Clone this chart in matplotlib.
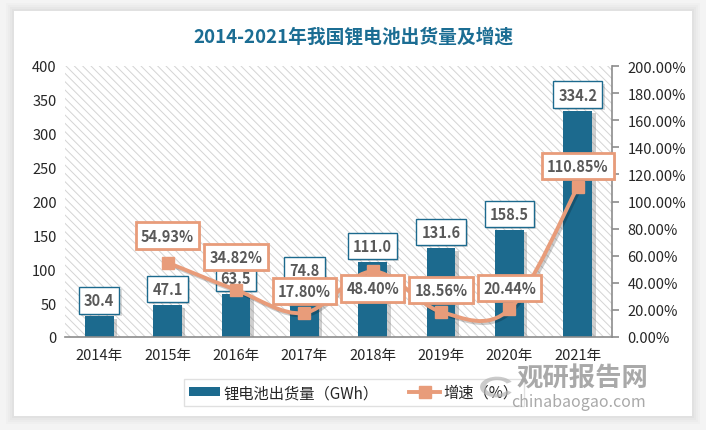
import numpy as np
import matplotlib
matplotlib.use('Agg')
import matplotlib.pyplot as plt
from matplotlib.path import Path
from matplotlib.patches import PathPatch, Rectangle, Wedge
from matplotlib.lines import Line2D
import matplotlib.patheffects as pe
from matplotlib.ticker import FuncFormatter

plt.rcParams['font.family'] = ['Noto Sans CJK SC', 'DejaVu Sans']
plt.rcParams['hatch.linewidth'] = 0.7
plt.rcParams['hatch.color'] = '#d4d4d4'

years = ['2014年', '2015年', '2016年', '2017年', '2018年', '2019年', '2020年', '2021年']
shipments = [30.4, 47.1, 63.5, 74.8, 111.0, 131.6, 158.5, 334.2]
growth = [np.nan, 54.93, 34.82, 17.80, 48.40, 18.56, 20.44, 110.85]
# label offsets (pixels) of the growth boxes relative to their markers
growth_offsets = [0, 27, 33, 22, -17, 22, 21, 21]

bar_color = '#1c6a8e'
line_color = '#e89c7a'
txt_color = '#595959'

fig = plt.figure(figsize=(7.06, 4.31), dpi=100)
fig.patch.set_facecolor('#f4f4f4')

# white card with soft shadow
for k, a in enumerate([0.05, 0.06, 0.08, 0.10]):
    d = (4 - k) * 0.003
    fig.patches.append(Rectangle((14/706 - d, 1 - 417/431 - d*1.6), 678/706 + 2*d, 405/431 + 2*d*1.6,
                                 transform=fig.transFigure, facecolor='#b0b0b0', alpha=a,
                                 edgecolor='none', zorder=-3))
fig.patches.append(Rectangle((14/706, 1 - 417/431), 678/706, 405/431, transform=fig.transFigure,
                             facecolor='white', edgecolor='none', zorder=-2))

ax = fig.add_axes([65/706, 1 - 338/431, 547/706, 271/431])
ax.set_facecolor('none')
ax.add_patch(Rectangle((0, 0), 1, 1, transform=ax.transAxes, facecolor='white',
                       hatch='\\\\\\\\', edgecolor='#d4d4d4', lw=0, zorder=0))
x = np.arange(len(years))
bars = ax.bar(x, shipments, width=0.42, color=bar_color, zorder=2,
              path_effects=[pe.SimplePatchShadow(offset=(2.5, -2), shadow_rgbFace='#777777', alpha=0.35),
                            pe.Normal()])
ax.set_xlim(-0.5, 7.5)
ax.set_ylim(0, 400)
ax.set_yticks(np.arange(0, 401, 50))
ax.set_xticks(x)
ax.set_xticklabels(years)
for s in ['top', 'right', 'left']:
    ax.spines[s].set_visible(False)
ax.spines['bottom'].set_color('#8c8c8c')
ax.spines['bottom'].set_linewidth(1.2)
ax.tick_params(axis='both', length=0, labelsize=10.5, colors='#262626', pad=6)
ax.tick_params(axis='x', pad=8)

for xi, v in zip(x, shipments):
    t = ax.annotate(f'{v:.1f}', (xi, v), xytext=(0, 16), textcoords='offset pixels',
                    ha='center', va='center', fontsize=10.5, fontweight='bold', color=txt_color,
                    bbox=dict(boxstyle='square,pad=0.35', fc='white', ec=bar_color, lw=1),
                    zorder=5)
    t.get_bbox_patch().set_path_effects([pe.SimplePatchShadow(offset=(1.5, -1.5), alpha=0.2), pe.Normal()])

ax2 = ax.twinx()
ax2.set_ylim(0, 200)
ax2.set_yticks(np.arange(0, 201, 20))
ax2.yaxis.set_major_formatter(FuncFormatter(lambda v, p: f'{v:.2f}%'))
for s in ['top', 'left', 'bottom']:
    ax2.spines[s].set_visible(False)
ax2.spines['right'].set_color('#8c8c8c')
ax2.spines['right'].set_linewidth(1.2)
ax2.tick_params(axis='y', length=5, width=1.2, color='#8c8c8c', labelsize=10.5,
                labelcolor='#262626', pad=6)

# smoothed line (Bezier through the growth points)
gx = x[1:].astype(float)
gy = np.array(growth[1:])
pts = np.column_stack([gx, gy])
verts = [pts[0]]
codes = [Path.MOVETO]
n = len(pts)
for i in range(n - 1):
    p0 = pts[i - 1] if i > 0 else pts[i]
    p3 = pts[i + 2] if i + 2 < n else pts[i + 1]
    c1 = pts[i] + (pts[i + 1] - p0) / 6
    c2 = pts[i + 1] - (p3 - pts[i]) / 6
    verts += [c1, c2, pts[i + 1]]
    codes += [Path.CURVE4] * 3
curve = PathPatch(Path(verts, codes), fill=False, edgecolor=line_color, lw=2.8, zorder=3,
                  capstyle='round',
                  path_effects=[pe.SimpleLineShadow(offset=(1.5, -1.5), alpha=0.2), pe.Normal()])
ax2.add_patch(curve)
ax2.plot(gx, gy, linestyle='none', marker='s', markersize=9, color=line_color, zorder=4)

for xi, v, off in zip(x, growth, growth_offsets):
    if np.isnan(v):
        continue
    t = ax2.annotate(f'{v:.2f}%', (xi, v), xytext=(0, off), textcoords='offset pixels',
                     ha='center', va='center', fontsize=10.5, fontweight='bold', color=txt_color,
                     bbox=dict(boxstyle='square,pad=0.35', fc='white', ec=line_color, lw=2),
                     zorder=6)
    t.get_bbox_patch().set_path_effects([pe.SimplePatchShadow(offset=(1.5, -1.5), alpha=0.2), pe.Normal()])

fig.text(0.5, 1 - 37/431, '2014-2021年我国锂电池出货量及增速', ha='center', va='center',
         fontsize=13.5, fontweight='bold', color='#1b6d93')

handles = [Rectangle((0, 0), 1, 1, facecolor=bar_color, edgecolor='none'),
           Line2D([], [], color=line_color, lw=2.8, marker='s', markersize=9)]
leg = fig.legend(handles, ['锂电池出货量（GWh）', '增速（%）'], loc='center',
                 bbox_to_anchor=(354/706, 1 - 393.5/431), ncol=2, fontsize=11,
                 frameon=True, fancybox=False, edgecolor='#d9d9d9', handlelength=2.0,
                 handleheight=0.45, handletextpad=0.25, columnspacing=2.0, borderpad=0.35,
                 borderaxespad=0)
leg.get_frame().set_linewidth(1)
leg.set_zorder(5)
for tx in leg.get_texts():
    tx.set_color('#262626')

# watermark
fig.patches.append(Wedge((497/706, 1 - 388/431), 0.024, 30, 330, width=0.008,
                         transform=fig.transFigure, facecolor='#b5b5b5', alpha=0.7,
                         edgecolor='none', zorder=8))
fig.text(582/706, 1 - 379/431, '观研报告网', ha='center', va='center', fontsize=19,
         fontweight='bold', color='#9a9a9a', alpha=0.85, zorder=9)
fig.text(578/706, 1 - 403/431, 'chinabaogao.com', ha='center', va='center', fontsize=11.5,
         color='#9a9a9a', alpha=0.85, zorder=9)

fig.savefig('out.png', dpi=100, facecolor=fig.get_facecolor())
